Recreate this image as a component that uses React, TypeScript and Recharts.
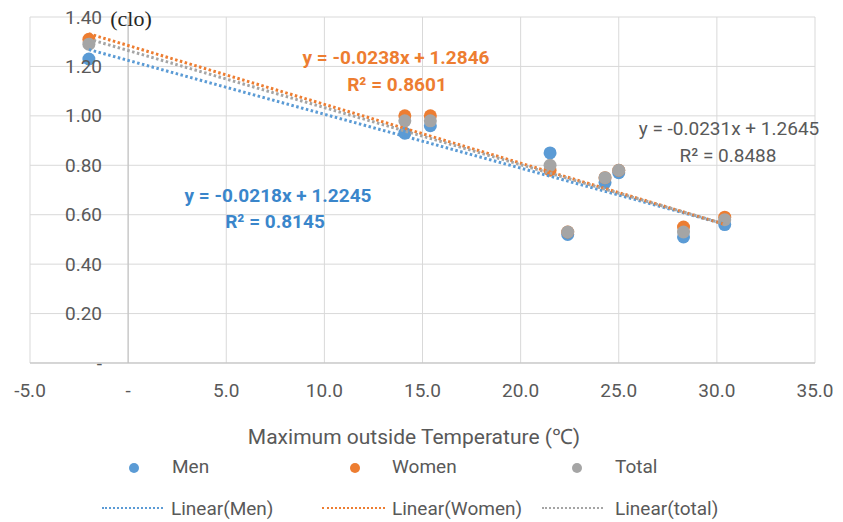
import { ScatterChart, Scatter, XAxis, YAxis, CartesianGrid, ReferenceLine } from 'recharts';

// maximum outside temperature (°C) per survey
const temps = [-2.0, 14.1, 15.4, 21.5, 22.4, 24.3, 25.0, 28.3, 30.4];
// clothing insulation (clo)
const menClo = [1.23, 0.93, 0.96, 0.85, 0.52, 0.73, 0.77, 0.51, 0.56];
const womenClo = [1.31, 1.0, 1.0, 0.78, 0.53, 0.75, 0.78, 0.55, 0.59];
const totalClo = [1.29, 0.98, 0.98, 0.8, 0.53, 0.75, 0.78, 0.53, 0.58];

// fitted linear trends: [slope, intercept, r2]
const menFit = [-0.0218, 1.2245, 0.8145];
const womenFit = [-0.0238, 1.2846, 0.8601];
const totalFit = [-0.0231, 1.2645, 0.8488];

const xTicks = [-5, 0, 5, 10, 15, 20, 25, 30, 35];
const yTicks = [0, 0.2, 0.4, 0.6, 0.8, 1.0, 1.2, 1.4];

const BLUE = '#5B9BD5';
const ORANGE = '#ED7D31';
const GRAY = '#A5A5A5';
const TEXT = '#595959';
const FONT = 'Roboto, "Noto Sans", sans-serif';

const toPoints = (ys: number[]) => temps.map((x, i) => ({ x, y: ys[i] }));

const trend = (fit: number[]) => {
  const lo = Math.min(...temps);
  const hi = Math.max(...temps);
  return [lo, hi].map((x) => ({ x, y: fit[0] * x + fit[1] }));
};

const eqText = (fit: number[]) =>
  `y = ${fit[0].toFixed(4)}x + ${fit[1].toFixed(4)}`;

const dot = (color: string) => (props: any) => (
  <circle cx={props.cx} cy={props.cy} r={6.5} fill={color} />
);
const noDot = () => <g />;

const XTick = ({ x, y, payload }: any) => (
  <text
    x={x}
    y={y + 27}
    textAnchor="middle"
    dominantBaseline="central"
    fill={TEXT}
    fontSize={19}
    fontFamily={FONT}
  >
    {payload.value === 0 ? '-' : payload.value.toFixed(1)}
  </text>
);

const YTick = ({ x, y, payload }: any) => (
  <text
    x={x + 72}
    y={y}
    textAnchor="end"
    dominantBaseline="central"
    fill={TEXT}
    fontSize={19}
    fontFamily={FONT}
  >
    {payload.value === 0 ? '-' : payload.value.toFixed(2)}
  </text>
);

const Txt = ({ x, y, color, bold, size = 19, children, family = FONT }: any) => (
  <div
    style={{
      position: 'absolute',
      left: x,
      top: y,
      transform: 'translate(-50%, -50%)',
      whiteSpace: 'nowrap',
      color,
      fontWeight: bold ? 700 : 400,
      fontSize: size,
      fontFamily: family,
      lineHeight: 1,
    }}
  >
    {children}
  </div>
);

const LegendDot = ({ x, color }: any) => (
  <div
    style={{
      position: 'absolute',
      left: x - 5,
      top: 468 - 5,
      width: 10,
      height: 10,
      borderRadius: '50%',
      background: color,
    }}
  />
);

const LegendLine = ({ x, w, color }: any) => (
  <div
    style={{
      position: 'absolute',
      left: x,
      top: 507,
      width: w,
      borderTop: `2px dotted ${color}`,
    }}
  />
);

const LegendText = ({ x, y, children }: any) => (
  <div
    style={{
      position: 'absolute',
      left: x,
      top: y,
      transform: 'translateY(-50%)',
      whiteSpace: 'nowrap',
      color: TEXT,
      fontSize: 19,
      fontFamily: FONT,
      lineHeight: 1,
    }}
  >
    {children}
  </div>
);

export default function App() {
  const trendLine = (color: string) => ({
    stroke: color,
    strokeWidth: 3,
    strokeDasharray: '2.5 2.5',
  });

  return (
    <div style={{ position: 'absolute', left: 0, top: 0, width: 843, height: 522, background: '#fff' }}>
      <ScatterChart width={843} height={522} margin={{ top: 17, right: 28, left: 0, bottom: 119 }}>
        <CartesianGrid stroke="#d9d9d9" />
        <XAxis
          type="number"
          dataKey="x"
          domain={[-5, 35]}
          ticks={xTicks}
          height={40}
          tickLine={false}
          tickSize={0}
          tickMargin={0}
          axisLine={{ stroke: '#bfbfbf' }}
          tick={<XTick />}
        />
        <YAxis
          type="number"
          dataKey="y"
          domain={[0, 1.4]}
          ticks={yTicks}
          width={30}
          tickLine={false}
          tickSize={0}
          tickMargin={0}
          axisLine={false}
          tick={<YTick />}
        />
        <ReferenceLine x={0} stroke="#bfbfbf" />
        <Scatter data={toPoints(menClo)} shape={dot(BLUE)} isAnimationActive={false} />
        <Scatter data={toPoints(womenClo)} shape={dot(ORANGE)} isAnimationActive={false} />
        <Scatter data={toPoints(totalClo)} shape={dot(GRAY)} isAnimationActive={false} />
        <Scatter data={trend(menFit)} line={trendLine(BLUE)} shape={noDot} isAnimationActive={false} />
        <Scatter data={trend(womenFit)} line={trendLine(ORANGE)} shape={noDot} isAnimationActive={false} />
        <Scatter data={trend(totalFit)} line={trendLine(GRAY)} shape={noDot} isAnimationActive={false} />
      </ScatterChart>

      <Txt x={131} y={19} color="#262626" size={22} family='"Liberation Serif", "DejaVu Serif", serif'>
        (clo)
      </Txt>

      <Txt x={396} y={57} color={ORANGE} bold>{eqText(womenFit)}</Txt>
      <Txt x={397} y={84} color={ORANGE} bold>
        R² = {womenFit[2].toFixed(4)}
      </Txt>
      <Txt x={278} y={195} color="#3A86CB" bold>{eqText(menFit)}</Txt>
      <Txt x={275} y={221} color="#3A86CB" bold>
        R² = {menFit[2].toFixed(4)}
      </Txt>
      <Txt x={729} y={128} color={TEXT}>{eqText(totalFit)}</Txt>
      <Txt x={728} y={155} color={TEXT}>
        R² = {totalFit[2].toFixed(4)}
      </Txt>

      <Txt x={414} y={437} color={TEXT} size={21}>
        Maximum outside Temperature (℃)
      </Txt>

      <LegendDot x={134} color={BLUE} />
      <LegendText x={172} y={466}>Men</LegendText>
      <LegendDot x={355} color={ORANGE} />
      <LegendText x={392} y={466}>Women</LegendText>
      <LegendDot x={577} color={GRAY} />
      <LegendText x={615} y={466}>Total</LegendText>

      <LegendLine x={102} w={61} color={BLUE} />
      <LegendText x={171} y={508}>Linear(Men)</LegendText>
      <LegendLine x={322} w={63} color={ORANGE} />
      <LegendText x={392} y={508}>Linear(Women)</LegendText>
      <LegendLine x={542} w={61} color={GRAY} />
      <LegendText x={615} y={508}>Linear(total)</LegendText>
    </div>
  );
}
